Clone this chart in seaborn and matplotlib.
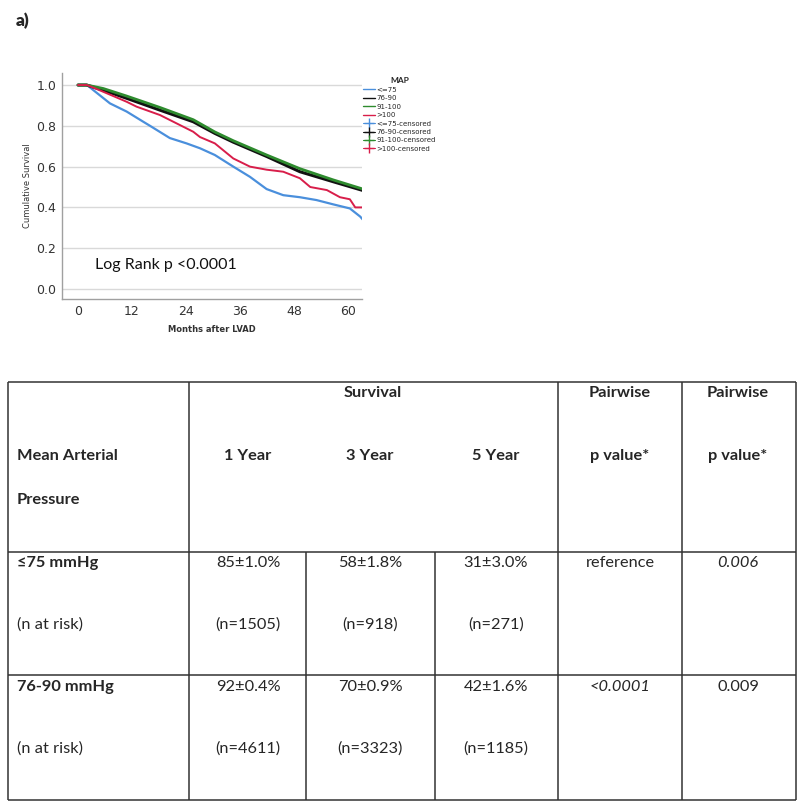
import matplotlib
matplotlib.use("Agg")
import matplotlib.pyplot as plt
from matplotlib.lines import Line2D
import numpy as np
import pandas as pd
import seaborn as sns

# survival curves (months after LVAD, cumulative survival)
months_le75 = [0, 2, 3.4, 7.1, 10.8, 14.5, 16, 18.2, 20.4, 24.1, 27.1, 30.4, 34.5, 38.2,
               41.9, 45.6, 49.3, 53, 56.7, 60.4, 62.7, 63.3]
surv_le75 = [1.0, 1.0, 0.975, 0.91, 0.87, 0.82, 0.80, 0.77, 0.74, 0.714, 0.69, 0.657, 0.60, 0.55,
             0.49, 0.46, 0.45, 0.436, 0.415, 0.395, 0.355, 0.34]
months_76_90 = [0, 1.9, 5.6, 10.8, 18.2, 25.6, 30.4, 34.5, 41.9, 49.3, 56.7, 63.3]
surv_76_90 = [1.0, 1.0, 0.975, 0.935, 0.877, 0.82, 0.763, 0.72, 0.65, 0.575, 0.526, 0.483]
months_91_100 = [0, 1.9, 5.6, 10.8, 18.2, 25.6, 30.4, 34.5, 41.9, 49.3, 56.7, 63.3]
surv_91_100 = [1.0, 1.0, 0.983, 0.946, 0.89, 0.83, 0.77, 0.727, 0.657, 0.59, 0.535, 0.49]
months_gt100 = [0, 2, 5.6, 10.8, 13, 18.2, 21.9, 25.6, 27.1, 30.4, 34.5, 38.2, 41.9, 45.6,
                49.3, 51.6, 55.3, 58.2, 60.4, 61.6, 63.3]
surv_gt100 = [1.0, 1.0, 0.967, 0.918, 0.894, 0.853, 0.812, 0.771, 0.745, 0.714, 0.64, 0.60, 0.585,
              0.575, 0.543, 0.50, 0.485, 0.45, 0.44, 0.40, 0.40]

map_groups = ["<=75", "76-90", "91-100", ">100"]
map_colors = ["#4a8fdc", "#111111", "#2e8b2e", "#d81e4a"]
x_ticks = [0, 12, 24, 36, 48, 60]
y_ticks = [0.0, 0.2, 0.4, 0.6, 0.8, 1.0]

# table content
row_labels = ["≤75 mmHg", "76-90 mmHg"]
surv_1yr = ["85±1.0%", "92±0.4%"]
surv_3yr = ["58±1.8%", "70±0.9%"]
surv_5yr = ["31±3.0%", "42±1.6%"]
n_1yr = ["(n=1505)", "(n=4611)"]
n_3yr = ["(n=918)", "(n=3323)"]
n_5yr = ["(n=271)", "(n=1185)"]
pval_a = ["reference", "<0.0001"]
pval_b = ["0.006", "0.009"]
pval_a_italic = [False, True]
pval_b_italic = [True, False]

sns.set_style("white")
plt.rcParams["font.family"] = ["Lato", "DejaVu Sans"]

curves = pd.concat([
    pd.DataFrame({"month": months_le75, "surv": surv_le75, "MAP": "<=75"}),
    pd.DataFrame({"month": months_76_90, "surv": surv_76_90, "MAP": "76-90"}),
    pd.DataFrame({"month": months_91_100, "surv": surv_91_100, "MAP": "91-100"}),
    pd.DataFrame({"month": months_gt100, "surv": surv_gt100, "MAP": ">100"}),
])

W, H = 800, 808
fig = plt.figure(figsize=(W / 100, H / 100), dpi=100)

# ---- Kaplan-Meier panel ----
ax = fig.add_axes([62 / W, 1 - 299 / H, 300 / W, 226 / H])
ax.set_xlim(-3.56, 63.1)
ax.set_ylim(-0.049, 1.059)
for y in y_ticks:
    ax.axhline(y, color="#d9d9d9", lw=1.0, zorder=0)

widths = {"<=75": 1.6, "76-90": 2.2, "91-100": 2.0, ">100": 1.4}
for g in map_groups:
    sub = curves[curves["MAP"] == g]
    sns.lineplot(data=sub, x="month", y="surv", ax=ax, estimator=None, sort=False,
                 color=map_colors[map_groups.index(g)], lw=widths[g], legend=False)

ax.set_xticks(x_ticks)
ax.set_yticks(y_ticks)
ax.set_xticklabels([str(t) for t in x_ticks], fontsize=9, color="#333333", family="DejaVu Sans")
ax.set_yticklabels([f"{t:.1f}" for t in y_ticks], fontsize=9, color="#333333", family="DejaVu Sans")
ax.tick_params(length=0, pad=4)
for side in ["top", "right"]:
    ax.spines[side].set_visible(False)
for side in ["left", "bottom"]:
    ax.spines[side].set_color("#a0a0a0")
    ax.spines[side].set_linewidth(1.0)
ax.set_xlabel("Months after LVAD", fontsize=6, fontweight="bold", color="#333333",
              family="DejaVu Sans", labelpad=5)
ax.set_ylabel("Cumulative Survival", fontsize=6, color="#333333", family="DejaVu Sans",
              labelpad=3)

handles = []
for c in map_colors:
    handles.append(Line2D([0], [0], color=c, lw=1))
for c in map_colors:
    handles.append(Line2D([0], [0], color=c, lw=0.8, marker="+", markersize=7))
labels = map_groups + [g + "-censored" for g in map_groups]
leg = fig.legend(handles, labels, title="MAP", loc="upper left",
                 bbox_to_anchor=(360 / W, 1 - 74 / H), frameon=False,
                 prop={"size": 5, "family": "DejaVu Sans"}, handlelength=1.6,
                 handletextpad=0.3, labelspacing=0.35, borderpad=0)
leg.get_title().set_fontsize(6)
leg.get_title().set_fontweight("bold")
leg._legend_box.align = "center"

# ---- panel letter, annotation and table (pixel coordinates) ----
tx = fig.add_axes([0, 0, 1, 1], facecolor="none")
tx.set_xlim(0, W)
tx.set_ylim(H, 0)
tx.axis("off")
tx.text(16, 21, "a)", fontsize=12.5, fontweight="heavy", va="center")
tx.text(95, 265, "Log Rank p <0.0001", fontsize=11.5, va="center", color="#111111")

lc = "#333333"
tx.hlines([382, 552, 675, 800], 8, 796, color=lc, lw=1.1)
for x in [8, 189, 558, 682, 796]:
    tx.vlines(x, 382, 800, color=lc, lw=1.1)
for x in [306, 435]:
    tx.vlines(x, 552, 800, color=lc, lw=1.1)

fs = 11.8
col_x = [248, 370, 496, 620, 738]
tx.text(373, 393, "Survival", fontsize=fs, fontweight="bold", ha="center", va="center")
tx.text(620, 393, "Pairwise", fontsize=fs, fontweight="bold", ha="center", va="center")
tx.text(738, 393, "Pairwise", fontsize=fs, fontweight="bold", ha="center", va="center")
tx.text(17, 456, "Mean Arterial", fontsize=fs, fontweight="bold", va="center")
tx.text(17, 500, "Pressure", fontsize=fs, fontweight="bold", va="center")
for x, t in zip(col_x, ["1 Year", "3 Year", "5 Year", "p value*", "p value*"]):
    tx.text(x, 456, t, fontsize=fs, fontweight="bold", ha="center", va="center")

row_y = [563, 687]
for i, y in enumerate(row_y):
    tx.text(17, y, row_labels[i], fontsize=fs, fontweight="bold", va="center")
    tx.text(17, y + 62, "(n at risk)", fontsize=fs, va="center")
    for x, v, n in zip(col_x[:3], [surv_1yr[i], surv_3yr[i], surv_5yr[i]],
                       [n_1yr[i], n_3yr[i], n_5yr[i]]):
        tx.text(x, y, v, fontsize=fs, ha="center", va="center")
        tx.text(x, y + 62, n, fontsize=fs, ha="center", va="center")
    tx.text(col_x[3], y, pval_a[i], fontsize=fs, ha="center", va="center",
            style="italic" if pval_a_italic[i] else "normal")
    tx.text(col_x[4], y, pval_b[i], fontsize=fs, ha="center", va="center",
            style="italic" if pval_b_italic[i] else "normal")

fig.savefig("out.png", dpi=100)
